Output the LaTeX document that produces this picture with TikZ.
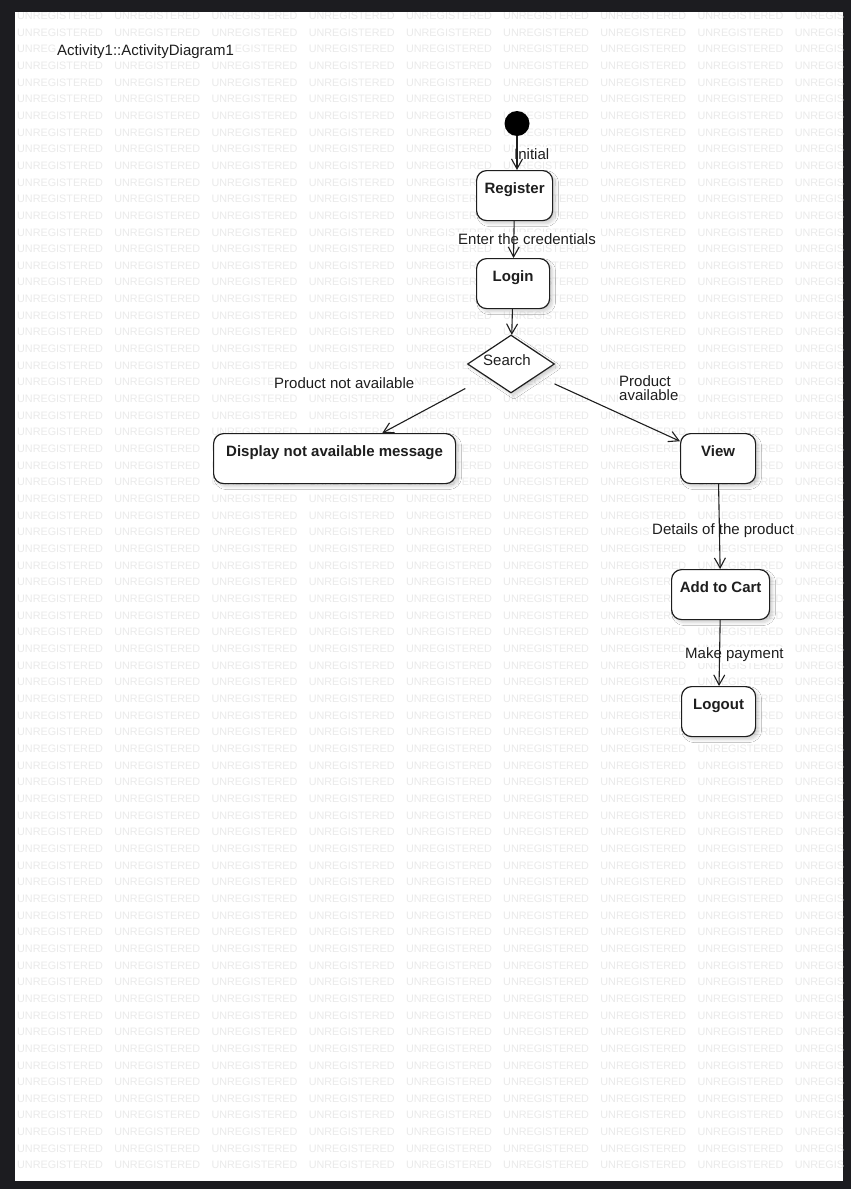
\documentclass[tikz,border=0pt]{standalone}
\usepackage{fontspec}
\setmainfont{Liberation Sans}
\usetikzlibrary{arrows.meta,shapes.geometric,shadows.blur}

\definecolor{framecol}{RGB}{28,28,32}
\definecolor{ink}{RGB}{30,30,30}
\definecolor{wmark}{RGB}{234,234,234}

\begin{document}
\begin{tikzpicture}[x=1pt,y=-1pt,
  wm/.style={anchor=west, inner sep=0pt, text=wmark,
    font=\fontsize{10.8}{12}\selectfont},
  softshadow/.style={blur shadow={shadow xshift=3pt, shadow yshift=-3pt,
    shadow blur steps=6, shadow blur radius=3pt, shadow opacity=18}},
  actbox/.style={draw=ink, line width=1.2pt, rounded corners=10pt, fill=white,
    softshadow, anchor=north west, minimum height=50pt,
    inner xsep=0pt, inner ysep=0pt, text height=22.5pt, text depth=27.5pt,
    text=ink, font=\fontsize{15}{18}\selectfont\bfseries},
  decision/.style={diamond, draw=ink, line width=1.2pt, fill=white, softshadow,
    minimum width=87pt, minimum height=58pt, inner sep=0pt, shape aspect=1.5,
    text height=11pt, text depth=9pt, text=ink,
    font=\fontsize{15}{18}\selectfont},
  startnode/.style={circle, fill=black, minimum size=25pt, inner sep=0pt},
  lbl/.style={fill=white, inner sep=1pt, text=ink,
    font=\fontsize{15}{14.5}\selectfont},
  conn/.style={draw=ink, line width=1.1pt,
    -{Straight Barb[length=10pt, width=11pt, line width=1.1pt]}}
]
% page frame and drawing area
\useasboundingbox (0,0) rectangle (851,1189);
\fill[framecol] (0,0) rectangle (851,1189);
\fill[white] (15,12) rectangle (843,1181);

% tiled watermark
\begin{scope}
  \clip (15,12) rectangle (843,1181);
  \foreach \r in {0,...,69} {
    \foreach \c in {0,...,8} {
      \node[wm] at ({17+97.2*\c},{15.7+16.66*\r}) {UNREGISTERED};
    }
  }
\end{scope}

% diagram title
\node[lbl, anchor=base west] (title) at (56,55.5) {Activity1::ActivityDiagram1};

% activities
\node[startnode] (init) at (517,123.5) {};
\node[actbox, minimum width=76pt] (reg) at (476,170) {Register};
\node[actbox, minimum width=73pt] (login) at (476,258) {Login};
\node[decision] (search) at (511,364) {\hspace*{-8pt}Search};
\node[actbox, minimum width=242pt] (disp) at (213,433) {Display not available message};
\node[actbox, minimum width=75pt] (view) at (680,433) {View};
\node[actbox, minimum width=98pt] (cart) at (671,569) {Add to Cart};
\node[actbox, minimum width=74pt] (logout) at (681,686) {Logout};

% transition labels
\node[lbl, anchor=base west] (lInit) at (513,159) {Initial};
\node[lbl, anchor=base west] (lCred) at (457,244) {Enter the credentials};
\node[lbl, anchor=base west] (lNot) at (273,388) {Product not available};
\node[lbl, anchor=north west, align=left] (lAvail) at (618,374) {Product\\available};
\node[lbl, anchor=base west] (lDet) at (651,534) {Details of the product};
\node[lbl, anchor=base west] (lPay) at (684,658.5) {Make payment};

% transitions
\draw[conn] (init) -- (init |- reg.north);
\draw[conn] (reg) -- (login);
\draw[conn] (login) -- (search);
\draw[conn, shorten <=24pt] (search) -- (disp);
\draw[conn, shorten <=19pt] (search) -- (view);
\draw[conn] (view) -- (cart);
\draw[conn] (cart) -- (logout);
\end{tikzpicture}
\end{document}
